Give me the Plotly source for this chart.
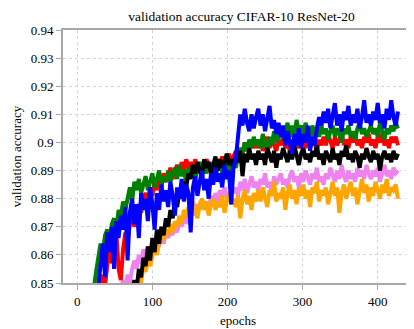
import plotly.graph_objects as go

# validation accuracy, sampled every 3 epochs (1, 4, 7, ..., 427)
epochs = list(range(1, 428, 3))

acc_green = [
    0.60, 0.70, 0.75, 0.78, 0.80, 0.82, 0.835, 0.848, 0.854, 0.860,
    0.864, 0.861, 0.867, 0.869, 0.865, 0.871, 0.873, 0.869, 0.876, 0.874,
    0.879, 0.876, 0.881, 0.884, 0.879, 0.886, 0.883, 0.887, 0.882, 0.885,
    0.888, 0.883, 0.886, 0.889, 0.884, 0.887, 0.890, 0.885, 0.888, 0.886,
    0.890, 0.886, 0.889, 0.891, 0.887, 0.892, 0.888, 0.890, 0.886, 0.891,
    0.889, 0.892, 0.887, 0.890, 0.893, 0.888, 0.891, 0.889, 0.893, 0.890,
    0.892, 0.888, 0.891, 0.894, 0.889, 0.893, 0.890, 0.892, 0.889, 0.893,
    0.891, 0.895, 0.898, 0.896, 0.900, 0.897, 0.901, 0.898, 0.902, 0.899,
    0.901, 0.898, 0.903, 0.900, 0.897, 0.902, 0.899, 0.904, 0.900, 0.902,
    0.905, 0.901, 0.904, 0.907, 0.902, 0.906, 0.903, 0.908, 0.904, 0.906,
    0.903, 0.907, 0.904, 0.901, 0.906, 0.903, 0.905, 0.902, 0.906, 0.903,
    0.905, 0.901, 0.904, 0.906, 0.902, 0.905, 0.903, 0.900, 0.905, 0.903,
    0.906, 0.902, 0.904, 0.901, 0.905, 0.907, 0.903, 0.905, 0.902, 0.904,
    0.906, 0.903, 0.905, 0.902, 0.907, 0.904, 0.901, 0.905, 0.903, 0.906,
    0.904, 0.907, 0.905,
]
acc_blue = [
    0.55, 0.65, 0.71, 0.75, 0.78, 0.80, 0.82, 0.833, 0.842, 0.849,
    0.856, 0.864, 0.852, 0.868, 0.861, 0.870, 0.855, 0.872, 0.866, 0.874,
    0.869, 0.877, 0.858, 0.875, 0.880, 0.871, 0.878, 0.866, 0.882, 0.876,
    0.880, 0.872, 0.884, 0.878, 0.869, 0.882, 0.876, 0.885, 0.879, 0.883,
    0.877, 0.886, 0.881, 0.874, 0.884, 0.880, 0.887, 0.879, 0.885, 0.882,
    0.868, 0.884, 0.888, 0.881, 0.886, 0.890, 0.883, 0.887, 0.880, 0.889,
    0.885, 0.891, 0.886, 0.889, 0.884, 0.892, 0.887, 0.890, 0.878, 0.891,
    0.894, 0.904, 0.910, 0.906, 0.912, 0.907, 0.904, 0.910, 0.905, 0.909,
    0.912, 0.906, 0.910, 0.904, 0.909, 0.913, 0.905, 0.908, 0.903, 0.907,
    0.902, 0.906, 0.899, 0.904, 0.900, 0.896, 0.903, 0.899, 0.905, 0.898,
    0.903, 0.900, 0.906, 0.897, 0.902, 0.899, 0.905, 0.909, 0.906, 0.911,
    0.907, 0.912, 0.905, 0.909, 0.914, 0.906, 0.910, 0.904, 0.911, 0.908,
    0.913, 0.906, 0.910, 0.907, 0.912, 0.905, 0.909, 0.915, 0.907, 0.910,
    0.906, 0.911, 0.908, 0.914, 0.907, 0.910, 0.905, 0.912, 0.908, 0.915,
    0.909, 0.906, 0.911,
]
acc_red = [
    0.50, 0.60, 0.68, 0.73, 0.77, 0.80, 0.82, 0.834, 0.842, 0.838,
    0.847, 0.853, 0.849, 0.858, 0.864, 0.857, 0.861, 0.868, 0.855, 0.851,
    0.862, 0.868, 0.865, 0.871, 0.874, 0.870, 0.876, 0.878, 0.875, 0.880,
    0.882, 0.879, 0.884, 0.881, 0.886, 0.883, 0.887, 0.884, 0.889, 0.886,
    0.888, 0.891, 0.887, 0.890, 0.892, 0.889, 0.893, 0.890, 0.894, 0.891,
    0.893, 0.890, 0.894, 0.891, 0.889, 0.893, 0.890, 0.894, 0.892, 0.889,
    0.893, 0.890, 0.894, 0.892, 0.895, 0.891, 0.894, 0.896, 0.893, 0.895,
    0.897, 0.894, 0.898, 0.896, 0.900, 0.897, 0.899, 0.901, 0.898, 0.900,
    0.898, 0.901, 0.897, 0.900, 0.902, 0.898, 0.901, 0.899, 0.897, 0.901,
    0.899, 0.902, 0.898, 0.900, 0.897, 0.901, 0.899, 0.903, 0.898, 0.900,
    0.902, 0.898, 0.901, 0.899, 0.903, 0.900, 0.897, 0.901, 0.899, 0.902,
    0.899, 0.903, 0.900, 0.898, 0.902, 0.899, 0.901, 0.904, 0.899, 0.901,
    0.898, 0.902, 0.900, 0.903, 0.899, 0.901, 0.898, 0.902, 0.900, 0.903,
    0.899, 0.901, 0.898, 0.902, 0.900, 0.903, 0.899, 0.901, 0.898, 0.902,
    0.900, 0.902, 0.899,
]
acc_black = [
    0.40, 0.45, 0.50, 0.55, 0.59, 0.62, 0.65, 0.68, 0.70, 0.72,
    0.74, 0.75, 0.77, 0.78, 0.79, 0.80, 0.81, 0.815, 0.82, 0.825,
    0.83, 0.834, 0.838, 0.842, 0.846, 0.851, 0.848, 0.855, 0.852, 0.859,
    0.856, 0.863, 0.858, 0.866, 0.861, 0.869, 0.864, 0.870, 0.867, 0.873,
    0.870, 0.876, 0.873, 0.879, 0.877, 0.883, 0.880, 0.886, 0.884, 0.889,
    0.887, 0.892, 0.889, 0.893, 0.890, 0.888, 0.894, 0.891, 0.893, 0.889,
    0.892, 0.895, 0.890, 0.894, 0.891, 0.893, 0.896, 0.892, 0.894, 0.891,
    0.895, 0.893, 0.897, 0.888, 0.896, 0.893, 0.898, 0.894, 0.896, 0.892,
    0.897, 0.894, 0.896, 0.892, 0.898, 0.895, 0.893, 0.897, 0.891, 0.896,
    0.894, 0.898, 0.895, 0.893, 0.897, 0.894, 0.899, 0.895, 0.892, 0.896,
    0.898, 0.894, 0.896, 0.893, 0.897, 0.895, 0.899, 0.894, 0.896, 0.892,
    0.897, 0.895, 0.893, 0.898, 0.894, 0.896, 0.892, 0.897, 0.895, 0.899,
    0.894, 0.896, 0.893, 0.897, 0.895, 0.891, 0.896, 0.894, 0.898, 0.895,
    0.893, 0.897, 0.894, 0.896, 0.890, 0.895, 0.897, 0.894, 0.896, 0.893,
    0.897, 0.894, 0.896,
]
acc_violet = [
    0.35, 0.40, 0.45, 0.49, 0.53, 0.57, 0.60, 0.63, 0.66, 0.69,
    0.71, 0.73, 0.75, 0.77, 0.79, 0.805, 0.82, 0.83, 0.84, 0.848,
    0.851, 0.847, 0.853, 0.850, 0.855, 0.858, 0.855, 0.860, 0.857, 0.862,
    0.859, 0.863, 0.860, 0.865, 0.862, 0.866, 0.863, 0.867, 0.864, 0.868,
    0.866, 0.869, 0.867, 0.871, 0.868, 0.872, 0.870, 0.874, 0.871, 0.875,
    0.873, 0.877, 0.874, 0.878, 0.876, 0.880, 0.877, 0.879, 0.876, 0.881,
    0.878, 0.882, 0.879, 0.883, 0.880, 0.884, 0.881, 0.879, 0.885, 0.882,
    0.884, 0.881, 0.886, 0.883, 0.887, 0.882, 0.885, 0.888, 0.884, 0.886,
    0.883, 0.887, 0.885, 0.889, 0.884, 0.886, 0.882, 0.888, 0.885, 0.887,
    0.889, 0.885, 0.887, 0.884, 0.888, 0.890, 0.886, 0.888, 0.884, 0.889,
    0.886, 0.890, 0.887, 0.885, 0.889, 0.887, 0.891, 0.886, 0.888, 0.885,
    0.889, 0.887, 0.891, 0.888, 0.886, 0.890, 0.887, 0.892, 0.888, 0.886,
    0.890, 0.887, 0.889, 0.886, 0.891, 0.888, 0.890, 0.887, 0.892, 0.889,
    0.887, 0.890, 0.888, 0.891, 0.886, 0.889, 0.892, 0.888, 0.890, 0.887,
    0.891, 0.889, 0.890,
]
acc_orange = [
    0.30, 0.35, 0.40, 0.44, 0.48, 0.52, 0.55, 0.58, 0.61, 0.64,
    0.66, 0.68, 0.70, 0.72, 0.74, 0.76, 0.77, 0.78, 0.79, 0.80,
    0.81, 0.82, 0.828, 0.835, 0.84, 0.845, 0.849, 0.853, 0.850, 0.856,
    0.854, 0.858, 0.856, 0.860, 0.863, 0.860, 0.865, 0.868, 0.865, 0.869,
    0.867, 0.871, 0.868, 0.872, 0.870, 0.874, 0.871, 0.876, 0.873, 0.877,
    0.875, 0.879, 0.876, 0.873, 0.878, 0.880, 0.876, 0.879, 0.874, 0.878,
    0.880, 0.876, 0.879, 0.877, 0.881, 0.875, 0.879, 0.882, 0.878, 0.880,
    0.877, 0.881, 0.873, 0.880, 0.883, 0.878, 0.881, 0.876, 0.882, 0.879,
    0.883, 0.879, 0.884, 0.880, 0.877, 0.883, 0.881, 0.886, 0.879, 0.882,
    0.880, 0.884, 0.876, 0.882, 0.885, 0.880, 0.883, 0.878, 0.884, 0.881,
    0.885, 0.880, 0.883, 0.877, 0.884, 0.882, 0.886, 0.879, 0.883, 0.881,
    0.884, 0.878, 0.883, 0.886, 0.881, 0.884, 0.875, 0.882, 0.885, 0.880,
    0.883, 0.886, 0.881, 0.884, 0.878, 0.883, 0.887, 0.882, 0.885, 0.879,
    0.884, 0.881, 0.886, 0.883, 0.880, 0.885, 0.882, 0.887, 0.881, 0.884,
    0.883, 0.885, 0.880,
]

y_ticks = [0.85, 0.86, 0.87, 0.88, 0.89, 0.90, 0.91, 0.92, 0.93, 0.94]
y_tick_text = ['0.85', '0.86', '0.87', '0.88', '0.89', '0.9', '0.91', '0.92', '0.93', '0.94']
x_ticks = [0, 100, 200, 300, 400]

# bottom-most first
series = [
    (acc_violet, '#ee82ee'),
    (acc_orange, '#ffa500'),
    (acc_red, '#ff0000'),
    (acc_green, '#008000'),
    (acc_black, '#000000'),
    (acc_blue, '#0000ff'),
]

FONT = 'Liberation Serif, Times New Roman, DejaVu Serif, serif'

fig = go.Figure()
for vals, col in series:
    fig.add_trace(go.Scatter(
        x=epochs, y=vals, mode='lines',
        line=dict(color=col, width=4),
        showlegend=False, hoverinfo='skip',
    ))

axis_style = dict(
    showline=True, linecolor='#a8a8a8', linewidth=2, mirror=True,
    ticks='outside', ticklen=5, tickcolor='#a8a8a8', tickwidth=1,
    showgrid=True, gridcolor='#d4d4d4', griddash='dot', gridwidth=1,
    zeroline=False, automargin=False,
    tickfont=dict(family=FONT, size=13, color='black'),
)

# the page body adds an 8px offset, so the figure is sized 8px smaller
fig.update_layout(
    width=406, height=321,
    margin=dict(l=55, r=1, t=22, b=46),
    plot_bgcolor='white', paper_bgcolor='white',
    title=dict(text='validation accuracy CIFAR-10 ResNet-20', x=0.575, xanchor='center',
               yref='container', y=0.99, yanchor='top',
               font=dict(family=FONT, size=13.5, color='black')),
)
fig.update_xaxes(range=[-19, 447], tickvals=x_ticks,
                 title=dict(text='epochs', font=dict(family=FONT, size=13, color='black'), standoff=8),
                 **axis_style)
fig.update_yaxes(range=[0.85, 0.94], tickvals=y_ticks, ticktext=y_tick_text,
                 title=dict(text='validation accuracy', font=dict(family=FONT, size=13, color='black'), standoff=6),
                 **axis_style)

fig.write_html('out.html')
